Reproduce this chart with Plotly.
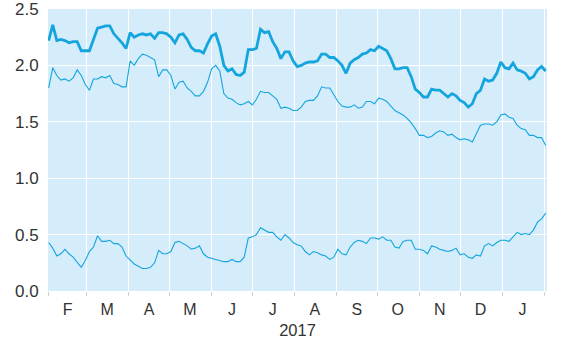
import pandas as pd
import plotly.graph_objects as go

# Sampled every 3 days starting 2017-02-01
start_date = "2017-02-01"
step = "3D"

series_top = [2.22, 2.36, 2.22, 2.23, 2.22, 2.20, 2.21, 2.21, 2.13, 2.13,
              2.13, 2.23, 2.33, 2.34, 2.35, 2.35, 2.28, 2.24, 2.20, 2.15,
              2.29, 2.25, 2.27, 2.28, 2.27, 2.28, 2.24, 2.29, 2.29, 2.28,
              2.25, 2.20, 2.27, 2.28, 2.23, 2.16, 2.13, 2.13, 2.11, 2.19,
              2.26, 2.28, 2.17, 2.00, 1.95, 1.97, 1.92, 1.91, 1.94, 2.14,
              2.14, 2.15, 2.32, 2.29, 2.30, 2.21, 2.15, 2.06, 2.12, 2.12,
              2.04, 1.99, 2.00, 2.02, 2.03, 2.03, 2.04, 2.10, 2.10, 2.07,
              2.07, 2.04, 2.00, 1.93, 2.02, 2.05, 2.07, 2.10, 2.11, 2.14,
              2.13, 2.17, 2.15, 2.13, 2.06, 1.97, 1.97, 1.98, 1.98, 1.90,
              1.79, 1.76, 1.72, 1.72, 1.79, 1.78, 1.78, 1.75, 1.72, 1.75,
              1.73, 1.69, 1.67, 1.63, 1.66, 1.75, 1.78, 1.88, 1.86, 1.87,
              1.93, 2.03, 1.98, 1.97, 2.02, 1.96, 1.95, 1.93, 1.88, 1.90,
              1.96, 1.99, 1.95]

series_mid = [1.80, 1.98, 1.91, 1.87, 1.88, 1.86, 1.89, 1.96, 1.91, 1.83,
              1.78, 1.88, 1.88, 1.90, 1.89, 1.91, 1.84, 1.83, 1.81, 1.81,
              2.04, 2.00, 2.06, 2.10, 2.09, 2.07, 2.05, 1.90, 1.96, 1.96,
              1.91, 1.79, 1.85, 1.86, 1.80, 1.77, 1.73, 1.73, 1.77, 1.85,
              1.97, 2.00, 1.95, 1.75, 1.71, 1.70, 1.67, 1.65, 1.66, 1.68,
              1.65, 1.70, 1.77, 1.76, 1.76, 1.73, 1.70, 1.62, 1.63, 1.62,
              1.60, 1.60, 1.63, 1.68, 1.69, 1.69, 1.73, 1.81, 1.80, 1.80,
              1.74, 1.68, 1.64, 1.63, 1.63, 1.65, 1.62, 1.63, 1.68, 1.68,
              1.66, 1.71, 1.70, 1.68, 1.64, 1.60, 1.58, 1.56, 1.53, 1.49,
              1.44, 1.38, 1.38, 1.36, 1.37, 1.40, 1.42, 1.41, 1.38, 1.39,
              1.36, 1.34, 1.35, 1.34, 1.32, 1.40, 1.47, 1.48, 1.48, 1.47,
              1.50, 1.56, 1.57, 1.54, 1.53, 1.47, 1.44, 1.43, 1.38, 1.38,
              1.36, 1.36, 1.29]

series_low = [0.43, 0.38, 0.31, 0.33, 0.37, 0.33, 0.30, 0.26, 0.21, 0.27,
              0.35, 0.39, 0.49, 0.44, 0.44, 0.45, 0.42, 0.42, 0.39, 0.31,
              0.27, 0.24, 0.22, 0.20, 0.20, 0.21, 0.25, 0.36, 0.33, 0.33,
              0.35, 0.43, 0.44, 0.42, 0.40, 0.37, 0.38, 0.40, 0.33, 0.30,
              0.29, 0.28, 0.27, 0.26, 0.26, 0.28, 0.26, 0.26, 0.30, 0.47,
              0.48, 0.50, 0.56, 0.54, 0.52, 0.52, 0.48, 0.45, 0.50, 0.47,
              0.43, 0.41, 0.40, 0.35, 0.32, 0.35, 0.34, 0.32, 0.31, 0.28,
              0.30, 0.37, 0.33, 0.32, 0.39, 0.43, 0.45, 0.44, 0.42, 0.47,
              0.47, 0.46, 0.48, 0.45, 0.45, 0.39, 0.38, 0.44, 0.45, 0.45,
              0.37, 0.37, 0.36, 0.33, 0.40, 0.39, 0.37, 0.36, 0.35, 0.36,
              0.38, 0.32, 0.33, 0.30, 0.29, 0.32, 0.31, 0.40, 0.42, 0.40,
              0.43, 0.45, 0.45, 0.44, 0.48, 0.52, 0.50, 0.51, 0.50, 0.54,
              0.61, 0.64, 0.69]

month_mid = ["2017-02-15", "2017-03-16", "2017-04-16", "2017-05-16",
             "2017-06-16", "2017-07-16", "2017-08-16", "2017-09-16",
             "2017-10-16", "2017-11-16", "2017-12-16", "2018-01-16"]
month_labels = ["F", "M", "A", "M", "J", "J", "A", "S", "O", "N", "D", "J"]
y_ticks = [0.0, 0.5, 1.0, 1.5, 2.0, 2.5]

dates = pd.date_range(start_date, periods=len(series_top), freq=step)

line_color = "#14a5de"
bg_color = "#d5edfa"
font_family = "Liberation Sans, Arial, sans-serif"

fig = go.Figure()
fig.add_trace(go.Scatter(x=dates, y=series_top, mode="lines",
                         line=dict(color=line_color, width=2.8), showlegend=False))
fig.add_trace(go.Scatter(x=dates, y=series_mid, mode="lines",
                         line=dict(color=line_color, width=1.1), showlegend=False))
fig.add_trace(go.Scatter(x=dates, y=series_low, mode="lines",
                         line=dict(color=line_color, width=1.1), showlegend=False))

fig.update_layout(
    width=563, height=344,
    margin=dict(l=48, r=16, t=9, b=53),
    paper_bgcolor="white",
    plot_bgcolor=bg_color,
    font=dict(family=font_family, color="#333333"),
)
fig.update_xaxes(
    range=["2017-01-31 12:00", "2018-02-03"],
    automargin=False,
    tickmode="array", tickvals=month_mid, ticktext=month_labels,
    ticks="outside", ticklen=4, tickcolor="rgba(0,0,0,0)",
    showgrid=False, zeroline=False,
    tickfont=dict(size=16),
    ticklabeloverflow="allow",
    minor=dict(tickmode="linear", tick0="2017-02-01", dtick="M1",
               showgrid=True, gridcolor="white", gridwidth=1.3,
               ticks="outside", ticklen=4, tickcolor="#d0d0d0"),
    title=dict(text="2017", font=dict(size=16.5), standoff=7),
)
fig.update_yaxes(
    range=[0, 2.5],
    automargin=False,
    tickmode="array", tickvals=y_ticks, tickformat=".1f",
    showgrid=True, gridcolor="white", gridwidth=1.3, zeroline=False,
    ticks="outside", ticklen=5, tickcolor="rgba(0,0,0,0)",
    tickfont=dict(size=17),
    ticklabeloverflow="allow",
)

fig.write_html("out.html")
